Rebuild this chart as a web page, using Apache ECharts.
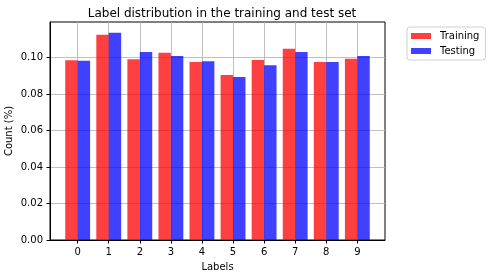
<!DOCTYPE html>
<html><head><meta charset="utf-8">
<script src="https://cdn.jsdelivr.net/npm/echarts@6/dist/echarts.min.js"></script>
<style>html,body{margin:0;padding:0;background:#fff}#c{width:491px;height:278px}</style>
</head><body><div id="c"></div>
<script>
const labels = [0,1,2,3,4,5,6,7,8,9];
const training = [0.0986,0.1125,0.0991,0.1026,0.0976,0.0905,0.0987,0.1048,0.0976,0.0993];
const testing  = [0.0982,0.1136,0.1030,0.1008,0.0980,0.0894,0.0958,0.1030,0.0976,0.1009];
const yTicks = [0,0.02,0.04,0.06,0.08,0.10];

const font = 'DejaVu Sans';
const chart = echarts.init(document.getElementById('c'), null, {renderer:'canvas'});
chart.setOption({
  animation:false,
  backgroundColor:'#fff',
  textStyle:{fontFamily:font},
  title:{text:'Label distribution in the training and test set', left:217, top:3, textAlign:'center',
    textStyle:{fontFamily:font, fontSize:12, fontWeight:'normal', color:'#000'}},
  legend:{orient:'vertical', left:407, top:27, padding:[4,6,4,4], itemGap:5,
    itemWidth:20, itemHeight:6, icon:'rect',
    borderColor:'#d0d0d0', borderWidth:1, borderRadius:3,
    textStyle:{fontFamily:font, fontSize:10, color:'#000', padding:[0,0,0,4]},
    data:['Training','Testing']},
  grid:{left:50, right:106, top:22, bottom:38, show:true, borderColor:'#000', borderWidth:1,
    containLabel:false, outerBoundsMode:'none'},
  xAxis:{type:'value', min:-0.89, max:9.89,
    name:'Labels', nameLocation:'middle', nameGap:22, nameMoveOverlap:false,
    nameTextStyle:{fontFamily:font, fontSize:10, color:'#000'},
    axisLine:{show:true, onZero:false, lineStyle:{color:'#000', width:1}},
    axisTick:{show:true, length:3.5, lineStyle:{color:'#000'}, customValues:labels},
    axisLabel:{customValues:labels, fontFamily:font, fontSize:10, color:'#000', margin:7},
    splitLine:{show:true, lineStyle:{color:'#b0b0b0', width:0.8}}},
  yAxis:{type:'value', min:0, max:0.1195,
    name:'Count (%)', nameLocation:'middle', nameGap:36, nameMoveOverlap:false,
    nameTextStyle:{fontFamily:font, fontSize:10, color:'#000'},
    axisLine:{show:true, onZero:false, lineStyle:{color:'#000', width:1}},
    axisTick:{show:true, length:3.5, lineStyle:{color:'#000'}, customValues:yTicks},
    axisLabel:{customValues:yTicks, fontFamily:font, fontSize:10, color:'#000', margin:7,
      formatter:v=>v.toFixed(2)},
    splitLine:{show:true, lineStyle:{color:'#b0b0b0', width:0.8}}},
  series:[
    {name:'Training', type:'bar', barWidth:'40%', barGap:'0%',
      itemStyle:{color:'rgba(255,0,0,0.75)'},
      data:labels.map((l,i)=>[l, training[i]])},
    {name:'Testing', type:'bar', barWidth:'40%', barGap:'0%',
      itemStyle:{color:'rgba(0,0,255,0.75)'},
      data:labels.map((l,i)=>[l, testing[i]])}
  ]
});
</script></body></html>
